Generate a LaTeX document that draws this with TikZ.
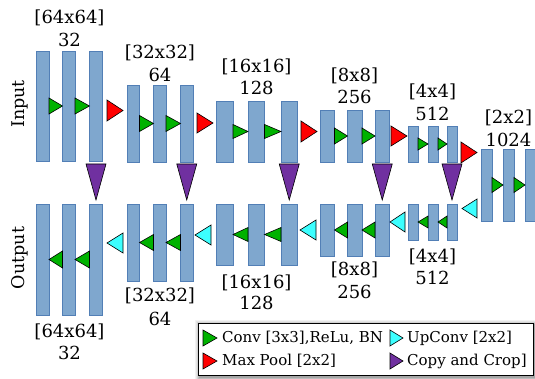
\documentclass[tikz,border=0pt]{standalone}
\usepackage{fontspec}
\setmainfont{DejaVu Serif}
\usetikzlibrary{calc}
\definecolor{barfill}{RGB}{127,167,206}
\definecolor{barline}{RGB}{82,127,182}
\definecolor{convg}{RGB}{0,178,0}
\definecolor{poolr}{RGB}{255,0,0}
\definecolor{upc}{RGB}{60,255,255}
\definecolor{copyp}{RGB}{112,48,160}
\tikzset{
 bar/.style={draw=barline, fill=barfill, line width=0.9pt, inner sep=0pt, outer sep=0pt, rectangle},
 conv/.style={draw=black, fill=convg, line width=0.6pt},
 pool/.style={draw=black, fill=poolr, line width=0.6pt},
 upstyle/.style={draw=black, fill=upc, line width=0.6pt},
 copystyle/.style={draw=black, fill=copyp, line width=0.6pt},
 lab/.style={font=\fontsize{18}{20}\selectfont, inner sep=0pt},
 side/.style={font=\fontsize{17.5}{20}\selectfont, rotate=90, inner sep=0pt},
 leg/.style={font=\fontsize{15}{17}\selectfont, inner sep=0pt, anchor=west},
}
\newcommand\mybar[5]{\node[bar,minimum width={(#3-#2)*1pt},minimum height={(#5-#4)*1pt}] (#1) at ({(#2+#3)/2},{(#4+#5)/2}) {};}
\newcommand\convR[3]{\filldraw[conv] ([yshift=#3]#1.east) -- (#2.west) -- ([yshift=-#3]#1.east) -- cycle;}
\newcommand\convL[3]{\filldraw[conv] ([yshift=#3]#2.west) -- (#1.east) -- ([yshift=-#3]#2.west) -- cycle;}
\newcommand\poolR[4]{\filldraw[pool] (#1,{#3-#4}) -- (#2,#3) -- (#1,{#3+#4}) -- cycle;}
\newcommand\upL[4]{\filldraw[upstyle] (#2,{#3-#4}) -- (#1,#3) -- (#2,{#3+#4}) -- cycle;}
\newcommand\copyD[1]{\filldraw[copystyle] ({#1-10},164) -- ({#1+10},164) -- (#1,200) -- cycle;}
\begin{document}
\begin{tikzpicture}[x=1pt,y=-1pt]
\useasboundingbox (0,0) rectangle (535,379);
% encoder bars
\mybar{e1a}{36.5}{49}{51}{161}\mybar{e1b}{62.5}{75}{51}{161}\mybar{e1c}{89.5}{102}{51}{161}
\mybar{e2a}{127}{139.5}{85}{162}\mybar{e2b}{153.5}{166}{85}{162}\mybar{e2c}{180.5}{193}{85}{162}
\mybar{e3a}{216}{233}{101}{162}\mybar{e3b}{248}{264.5}{101}{162}\mybar{e3c}{281}{297.5}{101}{162}
\mybar{e4a}{320}{334.5}{110}{162}\mybar{e4b}{347.5}{362}{110}{162}\mybar{e4c}{375}{389.5}{110}{162}
\mybar{e5a}{408}{418}{126}{162}\mybar{e5b}{428}{438}{126}{162}\mybar{e5c}{447}{457}{126}{162}
% bottleneck
\mybar{b1}{481}{492}{149}{221}\mybar{b2}{503}{514}{149}{221}\mybar{b3}{525}{536}{149}{221}
% decoder bars
\mybar{d1a}{36.5}{49}{204}{315}\mybar{d1b}{62.5}{75}{204}{315}\mybar{d1c}{89.5}{102}{204}{315}
\mybar{d2a}{127}{139.5}{204}{281}\mybar{d2b}{153.5}{166}{204}{281}\mybar{d2c}{180.5}{193}{204}{281}
\mybar{d3a}{216}{233}{204}{265}\mybar{d3b}{248}{264.5}{204}{265}\mybar{d3c}{281}{297.5}{204}{265}
\mybar{d4a}{320}{334.5}{204}{256}\mybar{d4b}{347.5}{362}{204}{256}\mybar{d4c}{375}{389.5}{204}{256}
\mybar{d5a}{408}{418}{204}{240}\mybar{d5b}{428}{438}{204}{240}\mybar{d5c}{447}{457}{204}{240}
% conv triangles (encoder)
\convR{e1a}{e1b}{8pt}\convR{e1b}{e1c}{8pt}
\convR{e2a}{e2b}{8pt}\convR{e2b}{e2c}{8pt}
\convR{e3a}{e3b}{7pt}\convR{e3b}{e3c}{7pt}
\convR{e4a}{e4b}{8pt}\convR{e4b}{e4c}{8pt}
\convR{e5a}{e5b}{6pt}\convR{e5b}{e5c}{6pt}
\convR{b1}{b2}{7.5pt}\convR{b2}{b3}{7.5pt}
% conv triangles (decoder)
\convL{d1a}{d1b}{8.5pt}\convL{d1b}{d1c}{8.5pt}
\convL{d2a}{d2b}{8pt}\convL{d2b}{d2c}{8pt}
\convL{d3a}{d3b}{7pt}\convL{d3b}{d3c}{7pt}
\convL{d4a}{d4b}{8pt}\convL{d4b}{d4c}{8pt}
\convL{d5a}{d5b}{6pt}\convL{d5b}{d5c}{6pt}
% max pool
\poolR{107}{123}{110.5}{10.5}
\poolR{197}{213}{123}{10}
\poolR{301}{317}{131.5}{10.5}
\poolR{391}{407}{136}{10}
\poolR{461}{477}{152.5}{10.5}
% up conv
\upL{462}{477}{208.5}{9.5}
\upL{390}{405}{222}{10}
\upL{300}{316}{230}{10}
\upL{195}{211}{235}{10}
\upL{107}{123}{243}{10}
% copy and crop
\copyD{96}\copyD{186.75}\copyD{289.25}\copyD{382.25}\copyD{452}
% labels encoder
\node[lab] (t1a) at (69.5,18) {[64x64]};\node[lab] (t1b) at (69.5,40) {32};
\node[lab] (t2a) at (160,53) {[32x32]};\node[lab] (t2b) at (160,75) {64};
\node[lab] (t3a) at (256.5,67) {[16x16]};\node[lab] (t3b) at (256.5,88) {128};
\node[lab] (t4a) at (354.5,76) {[8x8]};\node[lab] (t4b) at (354.5,97) {256};
\node[lab] (t5a) at (432.5,92) {[4x4]};\node[lab] (t5b) at (432.5,114) {512};
\node[lab] (t6a) at (508.5,118) {[2x2]};\node[lab] (t6b) at (508.5,140) {1024};
% labels decoder
\node[lab] (u5a) at (432.5,257) {[4x4]};\node[lab] (u5b) at (432.5,278) {512};
\node[lab] (u4a) at (354.5,270) {[8x8]};\node[lab] (u4b) at (354.5,292) {256};
\node[lab] (u3a) at (256.5,283) {[16x16]};\node[lab] (u3b) at (256.5,303) {128};
\node[lab] (u2a) at (160,296) {[32x32]};\node[lab] (u2b) at (160,319) {64};
\node[lab] (u1a) at (69.5,332) {[64x64]};\node[lab] (u1b) at (69.5,353) {32};
% side labels
\node[side] (inp) at (20,104) {Input};
\node[side] (outp) at (20,258) {Output};
% legend
\foreach \s/\o in {5/0.05,4/0.06,3/0.08,2/0.1,1/0.12}
  \fill[black,opacity=\o] ({198-\s+1.5},{323-\s+1.5}) rectangle ({533+\s+1.5},{375+\s+1.5});
\node[draw=black, fill=white, line width=1pt, inner sep=0pt, minimum width=335pt, minimum height=52pt] (legend) at (365.5,349) {};
\filldraw[conv] (203,330) -- (217,338) -- (203,346) -- cycle;
\node[leg] (l1) at (222,338) {Conv [3x3],ReLu, BN};
\filldraw[pool] (203,353) -- (217,361) -- (203,369) -- cycle;
\node[leg] (l2) at (222,361) {Max Pool [2x2]};
\filldraw[upstyle] (390,330) -- (403,338) -- (390,346) -- cycle;
\node[leg] (l3) at (407,338) {UpConv [2x2]};
\filldraw[copystyle] (390,353) -- (403,361) -- (390,369) -- cycle;
\node[leg] (l4) at (407,361) {Copy and Crop]};
\end{tikzpicture}
\end{document}
